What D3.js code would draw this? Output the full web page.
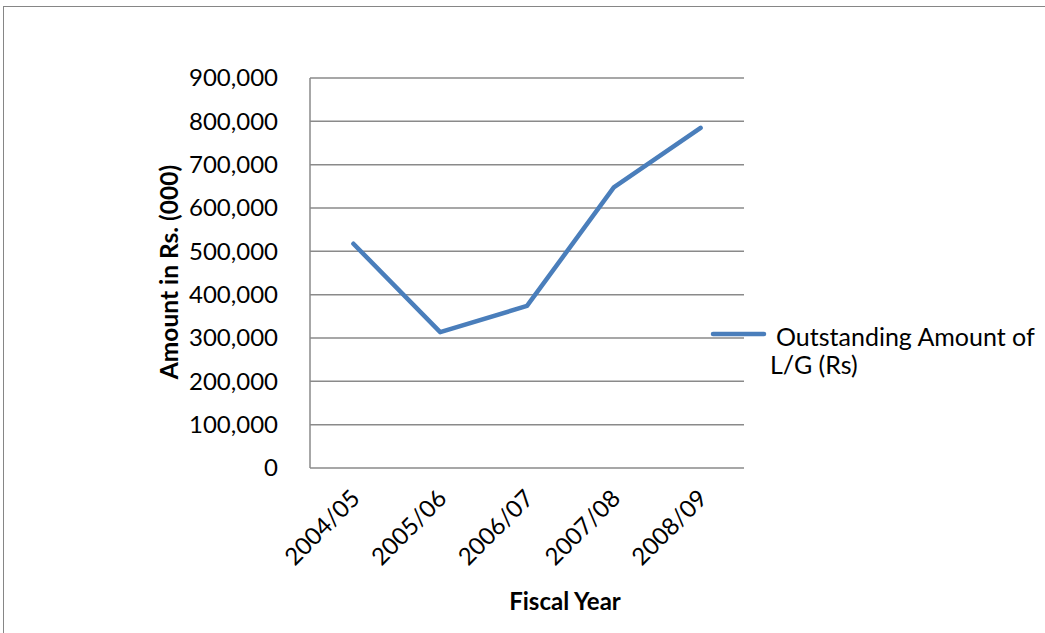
<!DOCTYPE html>
<html>
<head>
<meta charset="utf-8">
<script src="https://cdn.jsdelivr.net/npm/d3@7"></script>
<style>
  html, body { margin: 0; padding: 0; background: #fff; }
  svg { display: block; }
  text { font-family: Lato, "Open Sans", sans-serif; fill: #000; }
</style>
</head>
<body>
<svg id="chart" width="1045" height="633"></svg>
<script>
// Fiscal years and outstanding L/G amounts (Rs. 000)
const years = ["2004/05", "2005/06", "2006/07", "2007/08", "2008/09"];
const amounts = [517500, 313500, 374000, 647500, 785000];
const yTicks = [0, 100000, 200000, 300000, 400000, 500000, 600000, 700000, 800000, 900000];
const seriesName = ["Outstanding Amount of", "L/G (Rs)"];

const svg = d3.select("#chart");

// outer chart frame
svg.append("rect")
  .attr("x", 3.5).attr("y", 6.5)
  .attr("width", 1100).attr("height", 700)
  .attr("fill", "none").attr("stroke", "#868686").attr("stroke-width", 1);

const plot = { left: 310, right: 744, top: 78, bottom: 468 };

const x = d3.scaleBand().domain(years).range([plot.left, plot.right]);
const y = d3.scaleLinear().domain([0, 900000]).range([plot.bottom, plot.top]);

// horizontal gridlines
svg.append("g")
  .selectAll("line").data(yTicks).join("line")
  .attr("x1", plot.left).attr("x2", plot.right)
  .attr("y1", d => y(d)).attr("y2", d => y(d))
  .attr("stroke", "#8a8a8a").attr("stroke-width", 1.5);

// y axis line
svg.append("line")
  .attr("x1", plot.left).attr("x2", plot.left)
  .attr("y1", plot.top).attr("y2", plot.bottom)
  .attr("stroke", "#8a8a8a").attr("stroke-width", 1.5);

// y axis labels
const fmt = d3.format(",");
const yAxis = d3.axisLeft(y).tickValues(yTicks).tickFormat(fmt).tickSize(0).tickPadding(32);
const gy = svg.append("g").attr("transform", `translate(${plot.left},0)`).call(yAxis);
gy.select(".domain").remove();
gy.selectAll("text")
  .style("font-family", "Lato, 'Open Sans', sans-serif")
  .style("font-size", "24px").attr("fill", "#000");

// x axis labels, rotated
const xAxis = d3.axisBottom(x).tickSize(0).tickPadding(0);
const gx = svg.append("g").attr("transform", `translate(0,${plot.bottom})`).call(xAxis);
gx.select(".domain").remove();
gx.selectAll("text")
  .style("font-family", "Lato, 'Open Sans', sans-serif")
  .style("font-size", "24px").attr("fill", "#000")
  .attr("text-anchor", "end")
  .attr("dy", null).attr("y", 0)
  .attr("transform", "translate(8,32) rotate(-45)");

// series line
const line = d3.line()
  .x((d, i) => x(years[i]) + x.bandwidth() / 2)
  .y(d => y(d));
svg.append("path")
  .datum(amounts)
  .attr("d", line)
  .attr("fill", "none")
  .attr("stroke", "#4a7ebb")
  .attr("stroke-width", 4.5)
  .attr("stroke-linejoin", "round")
  .attr("stroke-linecap", "round");

// axis titles
svg.append("text")
  .attr("transform", "translate(178,272) rotate(-90)")
  .attr("text-anchor", "middle")
  .style("font-size", "24.5px").style("font-weight", "bold")
  .text("Amount in Rs. (000)");

svg.append("text")
  .attr("x", 565).attr("y", 610)
  .attr("text-anchor", "middle")
  .style("font-size", "24px").style("font-weight", "bold")
  .text("Fiscal Year");

// legend
svg.append("line")
  .attr("x1", 713).attr("x2", 764)
  .attr("y1", 334).attr("y2", 334)
  .attr("stroke", "#4a7ebb").attr("stroke-width", 4.5)
  .attr("stroke-linecap", "round");
svg.append("text")
  .attr("x", 776).attr("y", 346)
  .style("font-size", "25px")
  .text(seriesName[0]);
svg.append("text")
  .attr("x", 770).attr("y", 374)
  .style("font-size", "25px")
  .text(seriesName[1]);
</script>
</body>
</html>
